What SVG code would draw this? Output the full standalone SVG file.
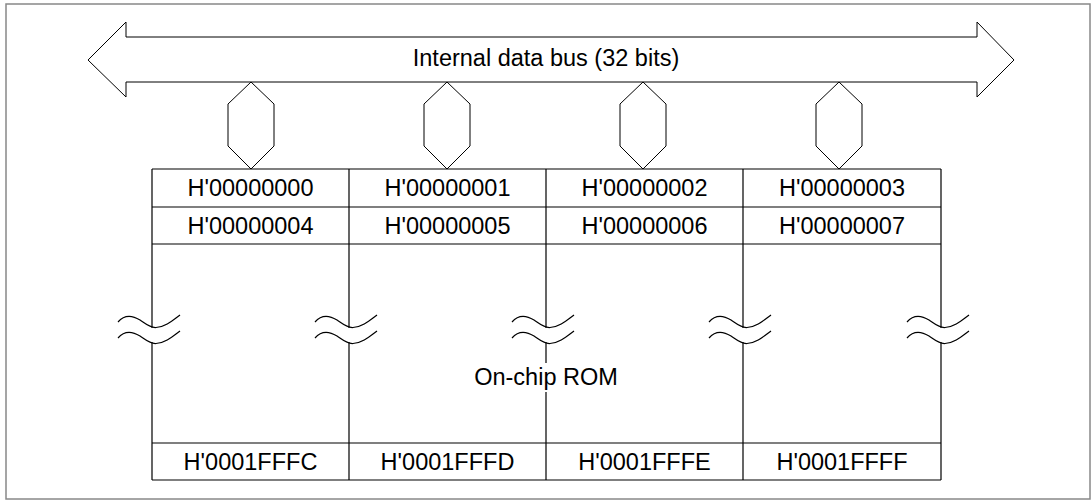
<svg xmlns="http://www.w3.org/2000/svg" width="1091" height="500" viewBox="0 0 1091 500">
<style>
.ln{fill:none;stroke:#000;stroke-width:1.2}
.sh{fill:#fff;stroke:#000;stroke-width:1}
.sq{fill:none;stroke:#000;stroke-width:1.2}
.t{font-family:"Liberation Sans",Arial,sans-serif;font-size:23.5px;fill:#000;text-anchor:middle}
</style>
<rect x="6" y="4" width="1084" height="495" fill="#fff" stroke="#888" stroke-width="1.5"/>
<g id="bus">
<polygon class="sh" points="88,60 126,22 126,37 977,37 977,22 1014,60 977,97 977,82 126,82 126,97"/>
<text class="t" x="546" y="66">Internal data bus (32 bits)</text>
</g>
<g id="connectors">
<polygon class="sh" points="251,82 274,104 274,146 251,169 228,146 228,104"/>
<polygon class="sh" points="447,82 470,104 470,146 447,169 424,146 424,104"/>
<polygon class="sh" points="643,82 666,104 666,146 643,169 620,146 620,104"/>
<polygon class="sh" points="839,82 862,104 862,146 839,169 816,146 816,104"/>
</g>
<g id="rom">
<line class="ln" x1="152" y1="169" x2="941" y2="169"/>
<line class="ln" x1="152" y1="207" x2="941" y2="207"/>
<line class="ln" x1="152" y1="244" x2="941" y2="244"/>
<line class="ln" x1="152" y1="443" x2="941" y2="443"/>
<line class="ln" x1="152" y1="480" x2="941" y2="480"/>
<path class="ln" d="M152,169V328M152,342V480M349,169V328M349,342V480M743,169V328M743,342V480M941,169V328M941,342V480M546,169V328M546,342V363M546,392V480"/>
<g id="breaks">
<path class="sq" d="M118,322 C124,315 132,315 140,320 C146,324 150,328 156,327.5 C165,327 172,321 180,315"/>
<path class="sq" d="M118,338 C124,331 132,331 140,336 C146,340 150,344 156,343.5 C165,343 172,337 180,331"/>
<path class="sq" d="M315,322 C321,315 329,315 337,320 C343,324 347,328 353,327.5 C362,327 369,321 377,315"/>
<path class="sq" d="M315,338 C321,331 329,331 337,336 C343,340 347,344 353,343.5 C362,343 369,337 377,331"/>
<path class="sq" d="M512,322 C518,315 526,315 534,320 C540,324 544,328 550,327.5 C559,327 566,321 574,315"/>
<path class="sq" d="M512,338 C518,331 526,331 534,336 C540,340 544,344 550,343.5 C559,343 566,337 574,331"/>
<path class="sq" d="M709,322 C715,315 723,315 731,320 C737,324 741,328 747,327.5 C756,327 763,321 771,315"/>
<path class="sq" d="M709,338 C715,331 723,331 731,336 C737,340 741,344 747,343.5 C756,343 763,337 771,331"/>
<path class="sq" d="M907,322 C913,315 921,315 929,320 C935,324 939,328 945,327.5 C954,327 961,321 969,315"/>
<path class="sq" d="M907,338 C913,331 921,331 929,336 C935,340 939,344 945,343.5 C954,343 961,337 969,331"/>
</g>
<text class="t" x="250.5" y="196">H'00000000</text>
<text class="t" x="447.5" y="196">H'00000001</text>
<text class="t" x="644.5" y="196">H'00000002</text>
<text class="t" x="842" y="196">H'00000003</text>
<text class="t" x="250.5" y="234">H'00000004</text>
<text class="t" x="447.5" y="234">H'00000005</text>
<text class="t" x="644.5" y="234">H'00000006</text>
<text class="t" x="842" y="234">H'00000007</text>
<text class="t" x="546" y="385">On-chip ROM</text>
<text class="t" x="250.5" y="470">H'0001FFFC</text>
<text class="t" x="447.5" y="470">H'0001FFFD</text>
<text class="t" x="644.5" y="470">H'0001FFFE</text>
<text class="t" x="842" y="470">H'0001FFFF</text>
</g>
</svg>
